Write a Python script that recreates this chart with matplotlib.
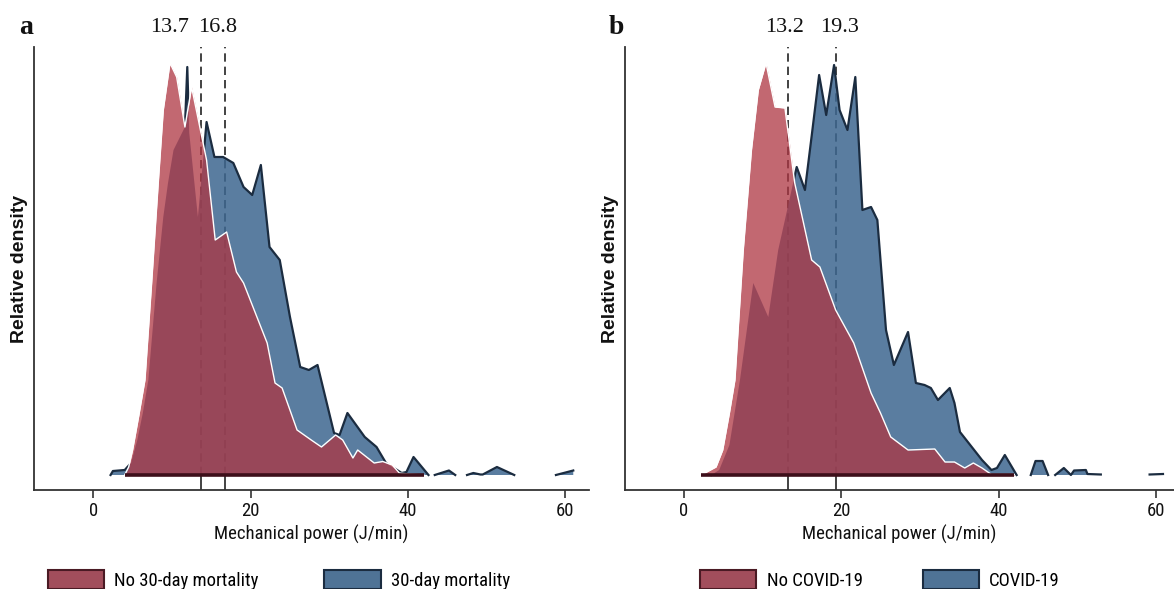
import numpy as np
import matplotlib
matplotlib.use("Agg")
import matplotlib.pyplot as plt
import matplotlib.patches as mpatches
from matplotlib import font_manager
from matplotlib.path import Path


def pick_font(names):
    for n in names:
        try:
            font_manager.findfont(n, fallback_to_default=False)
            return n
        except ValueError:
            pass
    return "DejaVu Sans"


NARROW = pick_font(["Liberation Sans Narrow", "Roboto Condensed", "Liberation Sans"])
plt.rcParams["font.family"] = [NARROW, "DejaVu Sans"]

nan = np.nan

# ---- panel a : 30-day mortality (relative density, arbitrary units)
a_no_x = [4.0, 4.5, 5.0, 5.8, 6.57, 7.42, 8.26, 8.9, 9.75, 10.6, 11.65, 12.5, 13.8, 14.4, 15.5,
          16.95, 18.2, 19.1, 22.1, 23.1, 24.0, 25.9, 27.7, 29.0, 30.8, 31.7, 33.0, 33.6, 35.7,
          36.8, 38.0, 38.9, 40.0, 42.0]
a_no_y = [0, 0.08, 0.25, 0.60, 0.95, 1.92, 2.92, 3.65, 4.12, 3.98, 3.48, 3.88, 3.38, 3.15, 2.35,
          2.43, 2.03, 1.92, 1.32, 0.92, 0.87, 0.45, 0.35, 0.28, 0.40, 0.35, 0.17, 0.25, 0.12,
          0.135, 0.10, 0.02, 0.01, 0]

a_yes_x = [2.2, 2.5, 4.0, 4.8, 5.6, 6.3, 7.0, 8.05, 8.9, 9.5, 10.2, 11.65, 11.95, 12.2, 13.3,
           14.4, 15.4, 16.5, 17.8, 19.1, 20.2, 21.3, 22.4, 23.7, 25.0, 26.3, 27.4, 28.5, 30.6,
           31.3, 32.3, 34.5, 36.0, 37.2, 39.2, 39.8, 40.7, 42.6, 42.6, 43.4, 45.2, 46.0, 46.0,
           47.5, 48.3, 49.2, 49.5, 51.3, 53.5, 53.5, 58.8, 61.0]
a_yes_y = [0, 0.04, 0.05, 0.12, 0.35, 0.62, 0.95, 1.92, 2.58, 2.92, 3.25, 3.48, 4.08, 3.42, 2.58,
           3.53, 3.18, 3.18, 3.12, 2.88, 2.80, 3.10, 2.28, 2.15, 1.58, 1.08, 1.05, 1.10, 0.42,
           0.40, 0.62, 0.38, 0.28, 0.12, 0.02, 0.03, 0.18, 0, nan, 0, 0.045, 0, nan,
           0, 0.02, 0.005, 0.005, 0.08, 0, nan, 0, 0.045]

a_medians = [13.7, 16.8]
a_median_text_x = [9.75, 15.8]
a_labels = ["No 30-day mortality", "30-day mortality"]

# ---- panel b : COVID-19
b_no_x = [2.2, 4.1, 4.95, 5.8, 6.5, 7.56, 8.6, 9.47, 10.45, 11.6, 12.86, 13.0, 14.1, 16.25, 17.3,
          19.3, 21.6, 23.8, 25.0, 26.3, 28.5, 31.9, 33.2, 34.4, 35.7, 36.8, 37.9, 39.1, 42.0]
b_no_y = [0, 0.08, 0.25, 0.62, 0.95, 2.25, 3.25, 3.85, 4.12, 3.68, 3.67, 3.58, 2.92, 2.15, 2.08,
          1.65, 1.32, 0.82, 0.62, 0.38, 0.25, 0.26, 0.13, 0.13, 0.07, 0.12, 0.07, 0.005, 0.005]

b_yes_x = [3.5, 4.5, 5.8, 7.14, 8.83, 10.74, 12.0, 13.7, 14.35, 15.4, 16.3, 17.2, 18.1, 19.1,
           19.8, 20.8, 21.8, 22.7, 23.8, 24.6, 25.0, 25.7, 26.7, 28.5, 29.5, 30.6, 31.4, 32.3,
           33.8, 34.4, 35.1, 36.6, 37.9, 39.1, 39.8, 40.8, 42.3, 42.3, 44.1, 44.7, 45.6, 46.3,
           46.3, 47.2, 48.3, 49.2, 49.6, 51.1, 51.3, 53.0, 53.0, 59.2, 60.9]
b_yes_y = [0, 0.05, 0.30, 0.95, 1.92, 1.58, 2.25, 2.85, 3.08, 2.85, 3.42, 4.00, 3.60, 4.10,
           3.65, 3.45, 3.98, 2.65, 2.68, 2.55, 2.15, 1.45, 1.10, 1.43, 0.92, 0.90, 0.87, 0.75,
           0.87, 0.72, 0.43, 0.28, 0.15, 0.05, 0.07, 0.20, 0, nan, 0, 0.14, 0.14, 0,
           nan, 0, 0.07, 0, 0.045, 0.05, 0.01, 0.005, nan, 0.005, 0.01]

b_medians = [13.2, 19.3]
b_median_text_x = [12.8, 19.85]
b_labels = ["No COVID-19", "COVID-19"]

xticks = [0, 20, 40, 60]

RED = "#ae3542"
BLUE = "#3d668f"
BLUE_EDGE = "#1b2c40"
INK = "#222222"
YLIM = (-0.15, 4.28)


def outside_of(poly_verts):
    # clip path = big box with the red polygon cut out (opposite winding)
    box = np.array([[-100, -10], [200, -10], [200, 10], [-100, 10], [-100, -10]])
    v = np.asarray(poly_verts, dtype=float)
    area = 0.5 * np.sum(v[:-1, 0] * v[1:, 1] - v[1:, 0] * v[:-1, 1])
    if area > 0:
        v = v[::-1]
    verts = np.concatenate([box, v, v[:1]])
    codes = ([Path.MOVETO] + [Path.LINETO] * 3 + [Path.CLOSEPOLY]
             + [Path.MOVETO] + [Path.LINETO] * (len(v) - 1) + [Path.CLOSEPOLY])
    return Path(verts, codes)


def draw_panel(ax, no_x, no_y, yes_x, yes_y, medians, med_text_x, letter, xlim):
    no_x, no_y = np.array(no_x), np.array(no_y, dtype=float)
    yes_x, yes_y = np.array(yes_x), np.array(yes_y, dtype=float)

    # medians: dashed from top, solid stub below the baseline
    for m in medians:
        ax.vlines(m, 0, YLIM[1], colors=INK, linestyles=(0, (5, 3)), lw=1.2, zorder=1)
        ax.vlines(m, YLIM[0], 0, colors=INK, lw=1.2, zorder=1)

    ax.fill_between(yes_x, 0, yes_y, color=BLUE, alpha=0.85, lw=0, zorder=2)
    red = ax.fill_between(no_x, 0, no_y, color=RED, alpha=0.75, lw=0, zorder=4)
    edge, = ax.plot(yes_x, yes_y, color=BLUE_EDGE, lw=1.6, zorder=5)
    edge.set_clip_path(outside_of(red.get_paths()[0].vertices), ax.transData)
    ax.plot(no_x, no_y, color="white", lw=1.0, zorder=6)
    ax.plot([no_x[0], no_x[-1]], [0, 0], color="#3d0f1a", lw=2.6,
            solid_capstyle="butt", zorder=7)

    for t, m in zip(med_text_x, medians):
        ax.text(t, 1.045, f"{m:.1f}", transform=ax.get_xaxis_transform(),
                ha="center", va="center", fontsize=16, family="Liberation Serif",
                color="#111111")
    ax.text(-0.015, 1.045, letter, transform=ax.transAxes, ha="center", va="center",
            fontsize=20, fontweight="bold", family="Liberation Serif", color="#111111")

    ax.set_xlim(*xlim)
    ax.set_ylim(*YLIM)
    ax.set_xticks(xticks)
    ax.set_yticks([])
    ax.tick_params(axis="x", length=6, width=1.2, color="#333333", labelsize=13.5,
                   pad=3, labelcolor="#111111")
    for s in ["top", "right"]:
        ax.spines[s].set_visible(False)
    for s in ["left", "bottom"]:
        ax.spines[s].set_color("#333333")
        ax.spines[s].set_linewidth(1.3)
    ax.set_xlabel("Mechanical power (J/min)", fontsize=13.5, labelpad=3, color="#111111")
    ax.set_ylabel("Relative density", fontsize=14, family="Liberation Sans",
                  fontweight="bold", labelpad=4, color="#111111")


fig = plt.figure(figsize=(11.74, 5.89), dpi=100)
W, H = 1174, 589
ax_a = fig.add_axes([34 / W, 1 - 490 / H, 555 / W, 443 / H])
ax_b = fig.add_axes([625 / W, 1 - 490 / H, 549 / W, 443 / H])

draw_panel(ax_a, a_no_x, a_no_y, a_yes_x, a_yes_y, a_medians, a_median_text_x, "a", (-7.53, 63.0))
draw_panel(ax_b, b_no_x, b_no_y, b_yes_x, b_yes_y, b_medians, b_median_text_x, "b", (-7.47, 62.3))


def legend_handles():
    return [mpatches.Patch(facecolor="#a24e5c", edgecolor="#4a1a24", lw=1.5),
            mpatches.Patch(facecolor="#4f7396", edgecolor="#1b2c40", lw=1.5)]


fig.legend(legend_handles(), a_labels, loc="center", bbox_to_anchor=(279 / W, 9 / H),
           ncol=2, frameon=False, fontsize=13.5, handlelength=3.0, handleheight=1.2,
           handletextpad=0.55, columnspacing=3.5, borderpad=0, borderaxespad=0)
fig.legend(legend_handles(), b_labels, loc="center", bbox_to_anchor=(880 / W, 9 / H),
           ncol=2, frameon=False, fontsize=13.5, handlelength=3.0, handleheight=1.2,
           handletextpad=0.55, columnspacing=3.2, borderpad=0, borderaxespad=0)

fig.savefig("out.png", dpi=100)
